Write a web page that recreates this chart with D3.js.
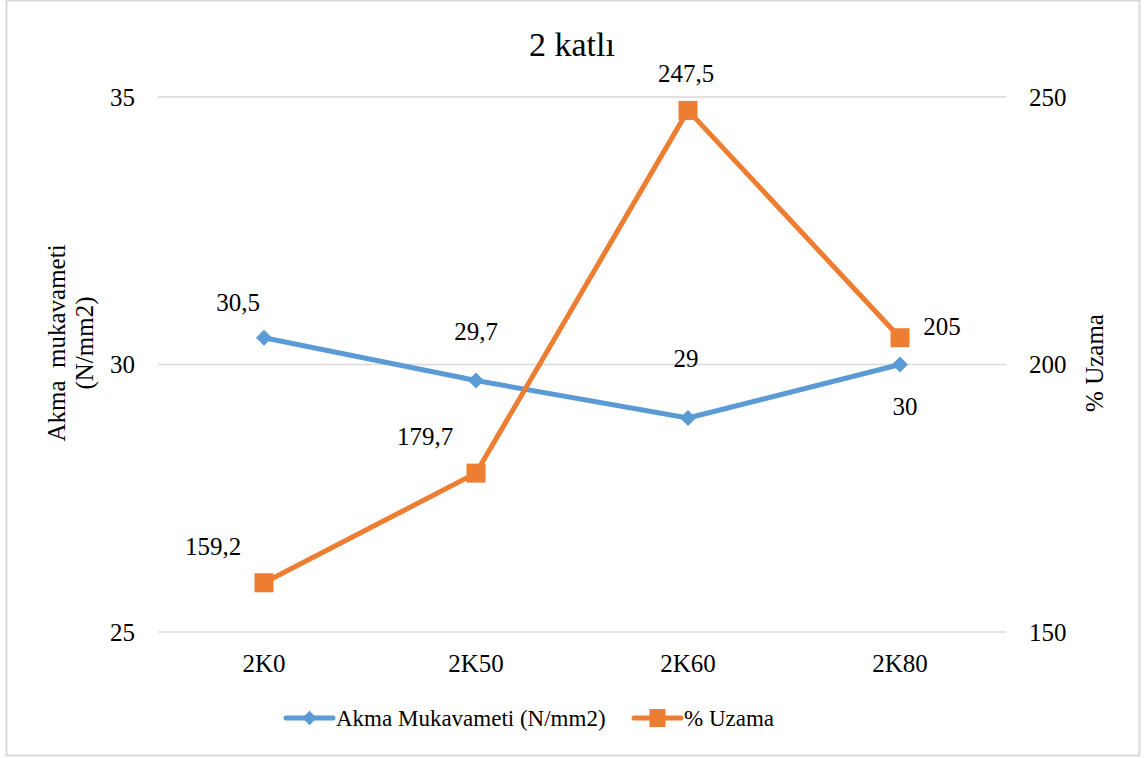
<!DOCTYPE html>
<html>
<head>
<meta charset="utf-8">
<script src="https://cdn.jsdelivr.net/npm/d3@7"></script>
<style>
  html, body { margin: 0; padding: 0; background: #fff; }
  svg { display: block; }
  svg text { font-family: "Liberation Serif", "Times New Roman", Times, "DejaVu Serif", serif !important; }
</style>
</head>
<body>
<svg id="chart" width="1146" height="758"></svg>
<script>
// Sample groups and measured values
const categories = ["2K0", "2K50", "2K60", "2K80"];
const akmaValues = [30.5, 29.7, 29, 30];
const uzamaValues = [159.2, 179.7, 247.5, 205];
const akmaLabels = ["30,5", "29,7", "29", "30"];
const uzamaLabels = ["159,2", "179,7", "247,5", "205"];
const leftTicks = [25, 30, 35];
const rightTicks = [150, 200, 250];
const seriesNames = ["Akma Mukavameti (N/mm2)", "% Uzama"];

const svg = d3.select("#chart");
const blue = "#5b9bd5", orange = "#ed7d31";
const fs = 25;

// Outer frame
svg.append("rect").attr("x", 6.5).attr("y", 0.5).attr("width", 1133).attr("height", 755)
  .attr("fill", "#fff").attr("stroke", "#d9d9d9").attr("stroke-width", 2);

const plot = { left: 158, right: 1006, top: 97, bottom: 632 };

const x = d3.scaleBand().domain(categories).range([plot.left, plot.right]);
const yL = d3.scaleLinear().domain([25, 35]).range([plot.bottom, plot.top]);
const yR = d3.scaleLinear().domain([150, 250]).range([plot.bottom, plot.top]);
const cx = c => x(c) + x.bandwidth() / 2;

// Gridlines
svg.append("g").selectAll("line").data(leftTicks).join("line")
  .attr("x1", plot.left).attr("x2", plot.right)
  .attr("y1", d => yL(d)).attr("y2", d => yL(d))
  .attr("stroke", "#d9d9d9").attr("stroke-width", 1.5);

// Left axis
const gL = svg.append("g").attr("transform", `translate(${plot.left - 23},0)`)
  .call(d3.axisLeft(yL).tickValues(leftTicks).tickSize(0).tickPadding(0).tickFormat(d => d));
gL.select(".domain").remove();
gL.selectAll("text").attr("font-size", fs).attr("fill", "#000");

// Right axis
const gR = svg.append("g").attr("transform", `translate(${plot.right + 23},0)`)
  .call(d3.axisRight(yR).tickValues(rightTicks).tickSize(0).tickPadding(0).tickFormat(d => d));
gR.select(".domain").remove();
gR.selectAll("text").attr("font-size", fs).attr("fill", "#000");

// Bottom axis
const gB = svg.append("g").attr("transform", "translate(0,672)")
  .call(d3.axisBottom(x).tickSize(0).tickPadding(0));
gB.select(".domain").remove();
gB.selectAll("text").attr("font-size", fs).attr("fill", "#000").attr("dy", 0);

// Title
svg.append("text").attr("x", 572).attr("y", 56).attr("text-anchor", "middle")
  .attr("font-size", 34).attr("fill", "#000").text("2 katlı");

// Axis titles
const lt = svg.append("text").attr("transform", "translate(65,343) rotate(-90)")
  .attr("text-anchor", "middle").attr("font-size", fs).attr("fill", "#000");
lt.append("tspan").attr("x", 0).attr("dy", 0).attr("xml:space", "preserve").text("Akma  mukavameti");
lt.append("tspan").attr("x", 0).attr("dy", 28).text("(N/mm2)");

svg.append("text").attr("transform", "translate(1103,363) rotate(-90)")
  .attr("text-anchor", "middle").attr("font-size", fs).attr("fill", "#000").text("% Uzama");

// Lines
const lineL = d3.line().x((d, i) => cx(categories[i])).y(d => yL(d));
const lineR = d3.line().x((d, i) => cx(categories[i])).y(d => yR(d));

svg.append("path").datum(akmaValues).attr("d", lineL)
  .attr("fill", "none").attr("stroke", blue).attr("stroke-width", 5).attr("stroke-linejoin", "round");
svg.append("path").datum(uzamaValues).attr("d", lineR)
  .attr("fill", "none").attr("stroke", orange).attr("stroke-width", 5).attr("stroke-linejoin", "round");

// Markers
const diamond = d3.symbol().type(d3.symbolDiamond2).size(165);
svg.append("g").selectAll("path").data(akmaValues).join("path")
  .attr("d", diamond)
  .attr("transform", (d, i) => `translate(${cx(categories[i])},${yL(d)})`)
  .attr("fill", blue);

const sq = 19;
svg.append("g").selectAll("rect").data(uzamaValues).join("rect")
  .attr("x", (d, i) => cx(categories[i]) - sq / 2)
  .attr("y", d => yR(d) - sq / 2)
  .attr("width", sq).attr("height", sq)
  .attr("fill", orange);

// Data labels (offsets of the text centre from the point)
const akmaOffsets = [[-26, -36], [0, -50], [-2, -60], [5, 41]];
const uzamaOffsets = [[-51, -37], [-51, -37], [-2, -37], [42, -12]];

svg.append("g").selectAll("text").data(akmaValues).join("text")
  .attr("x", (d, i) => cx(categories[i]) + akmaOffsets[i][0])
  .attr("y", (d, i) => yL(d) + akmaOffsets[i][1])
  .attr("dy", "0.36em")
  .attr("text-anchor", "middle")
  .attr("font-size", fs).attr("fill", "#000")
  .text((d, i) => akmaLabels[i]);

svg.append("g").selectAll("text").data(uzamaValues).join("text")
  .attr("x", (d, i) => cx(categories[i]) + uzamaOffsets[i][0])
  .attr("y", (d, i) => yR(d) + uzamaOffsets[i][1])
  .attr("dy", "0.36em")
  .attr("text-anchor", "middle")
  .attr("font-size", fs).attr("fill", "#000")
  .text((d, i) => uzamaLabels[i]);

// Legend
const legend = svg.append("g").attr("transform", "translate(0,718)");
const items = [
  { x: 286, color: blue, kind: "diamond", name: seriesNames[0] },
  { x: 634, color: orange, kind: "square", name: seriesNames[1] }
];
const legendDiamond = d3.symbol().type(d3.symbolDiamond2).size(130);
items.forEach(it => {
  const g = legend.append("g").attr("transform", `translate(${it.x},0)`);
  g.append("line").attr("x1", 0).attr("x2", 47).attr("y1", 0).attr("y2", 0)
    .attr("stroke", it.color).attr("stroke-width", 5).attr("stroke-linecap", "round");
  if (it.kind === "diamond") {
    g.append("path").attr("d", legendDiamond).attr("transform", "translate(23.5,0)").attr("fill", it.color);
  } else {
    g.append("rect").attr("x", 23.5 - 8).attr("y", -9).attr("width", 16).attr("height", 18).attr("fill", it.color);
  }
  g.append("text").attr("x", 50).attr("y", 0).attr("dy", "0.36em")
    .attr("font-size", 23).attr("fill", "#000").text(it.name);
});
</script>
</body>
</html>
